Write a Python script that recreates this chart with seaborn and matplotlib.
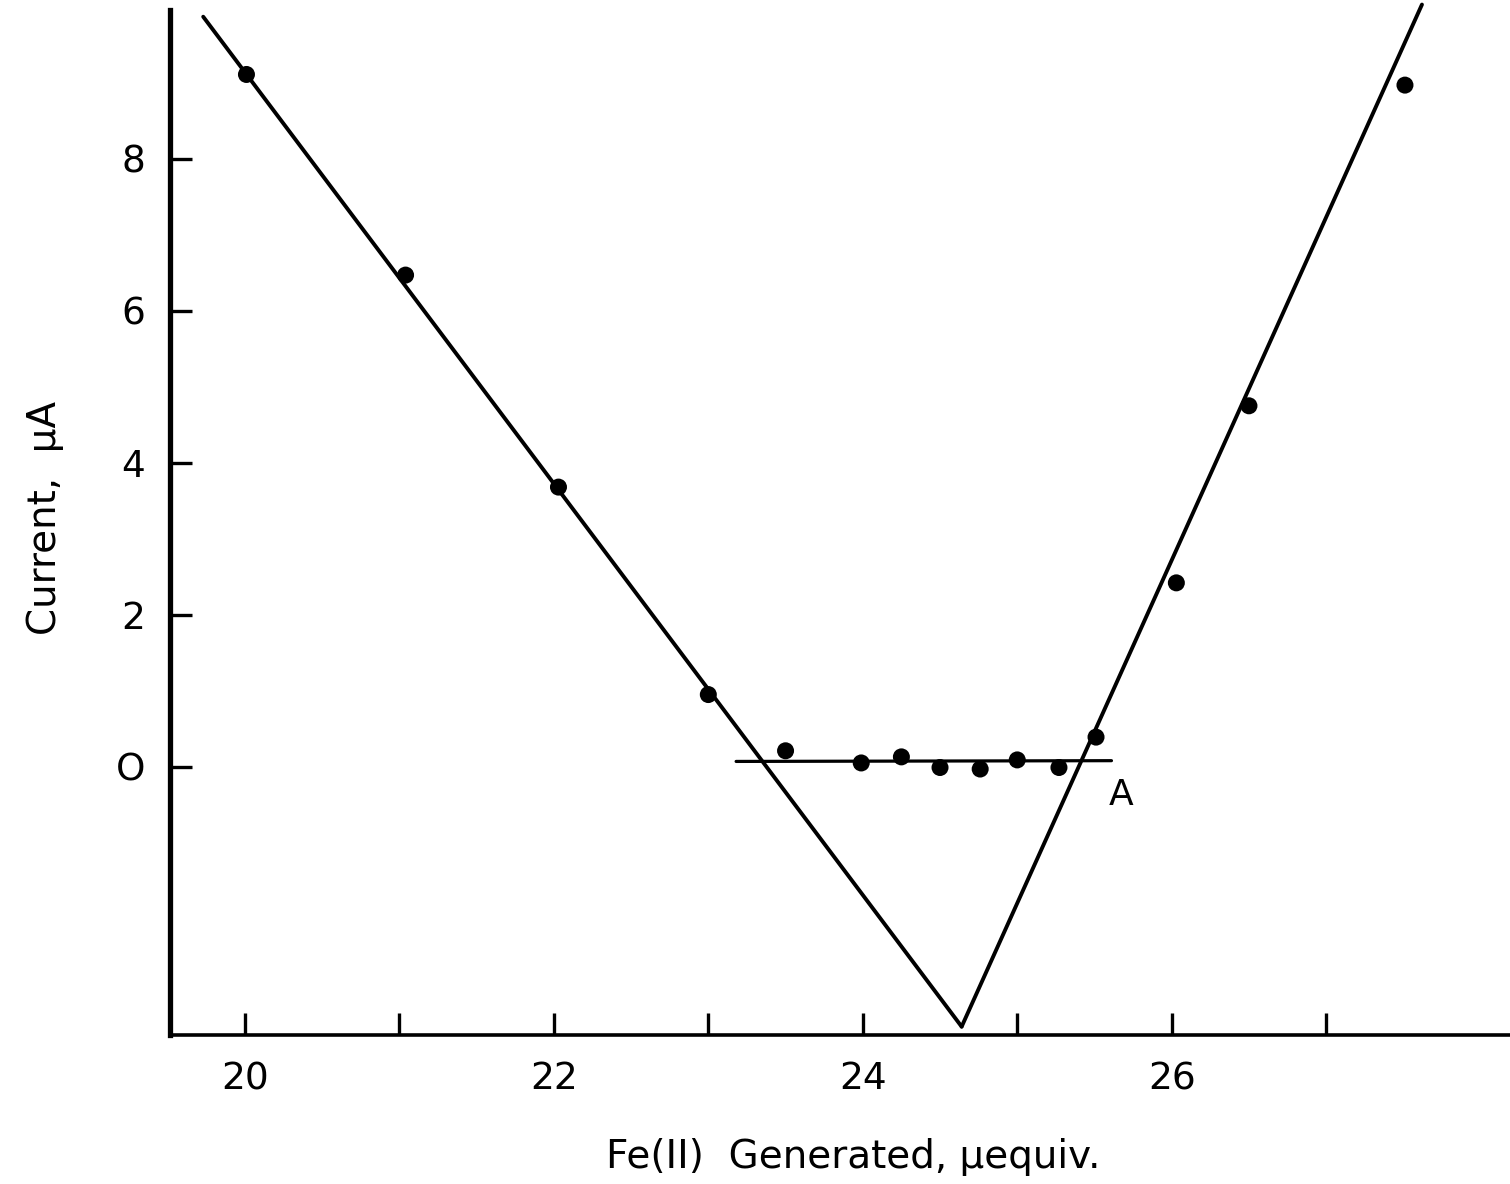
import numpy as np
import pandas as pd
import matplotlib
matplotlib.use("Agg")
import matplotlib.pyplot as plt
import seaborn as sns

# ---- data ----
fe_generated = [20.01, 21.04, 22.03, 23.00, 23.50, 23.99, 24.25, 24.50, 24.76,
                25.00, 25.27, 25.51, 26.03, 26.50, 27.51]
current = [9.11, 6.47, 3.68, 0.95, 0.21, 0.05, 0.13, -0.01, -0.03,
           0.09, -0.01, 0.39, 2.42, 4.75, 8.97]

# fitted lines (endpoints)
left_line_x = [19.73, 24.64]
left_line_y = [9.87, -3.42]
right_line_x = [24.64, 27.62]
right_line_y = [-3.42, 10.03]
flat_line_x = [23.18, 25.61]
flat_line_y = [0.07, 0.08]

x_major = [20, 22, 24, 26]
x_minor = [21, 23, 25, 27]
y_ticks = [0, 2, 4, 6, 8]
y_ticklabels = ["O", "2", "4", "6", "8"]

x_label = "Fe(II)  Generated, μequiv."
y_label = "Current,  μA"
point_label = "A"
point_label_xy = (25.67, -0.37)

# ---- plotting ----
sns.set_style("white")
plt.rcParams["font.family"] = ["DejaVu Sans"]
plt.rcParams["text.color"] = "black"
plt.rcParams["xtick.color"] = "black"
plt.rcParams["ytick.color"] = "black"

fig = plt.figure(figsize=(15.10, 11.84), dpi=100)
ax = fig.add_axes([170 / 1510, 1 - 1035 / 1184, 1 - 170 / 1510, 1035 / 1184])

pts = pd.DataFrame({"x": fe_generated, "y": current})
sns.scatterplot(data=pts, x="x", y="y", ax=ax, color="black", s=150,
                edgecolor="none", zorder=3)

for lx, ly, lw in [(left_line_x, left_line_y, 2.8),
                   (right_line_x, right_line_y, 2.8),
                   (flat_line_x, flat_line_y, 2.3)]:
    ld = pd.DataFrame({"x": lx, "y": ly})
    sns.lineplot(data=ld, x="x", y="y", ax=ax, color="black", lw=lw,
                 sort=False, estimator=None, solid_capstyle="round")

ax.text(point_label_xy[0], point_label_xy[1], point_label, fontsize=26,
        ha="center", va="center", color="black")

ax.set_xlim(19.515, 28.19)
ax.set_ylim(-3.53, 10.09)

ax.set_xticks(x_major)
ax.set_xticklabels([str(v) for v in x_major])
ax.set_xticks(x_minor, minor=True)
ax.set_yticks(y_ticks)
ax.set_yticklabels(y_ticklabels)

ax.tick_params(axis="x", which="both", direction="in", length=16, width=2.4,
               color="black", labelcolor="black", labelsize=27, pad=19,
               bottom=True)
ax.tick_params(axis="y", which="both", direction="in", length=16, width=2.4,
               color="black", labelcolor="black", labelsize=27, pad=18,
               left=True)

for s in ["top", "right"]:
    ax.spines[s].set_visible(False)
ax.spines["left"].set_linewidth(3.8)
ax.spines["left"].set_color("black")
ax.spines["left"].set_bounds(-3.53, 9.96)
ax.spines["bottom"].set_linewidth(2.6)
ax.spines["bottom"].set_color("black")

ax.set_xlabel("")
ax.set_ylabel("")
fig.text(853 / 1510, 1 - 1157 / 1184, x_label, fontsize=28,
         ha="center", va="center", color="black")
fig.text(45 / 1510, 1 - 518 / 1184, y_label, fontsize=28,
         ha="center", va="center", rotation=90, color="black")

fig.savefig("out.png", dpi=100, facecolor="white")
